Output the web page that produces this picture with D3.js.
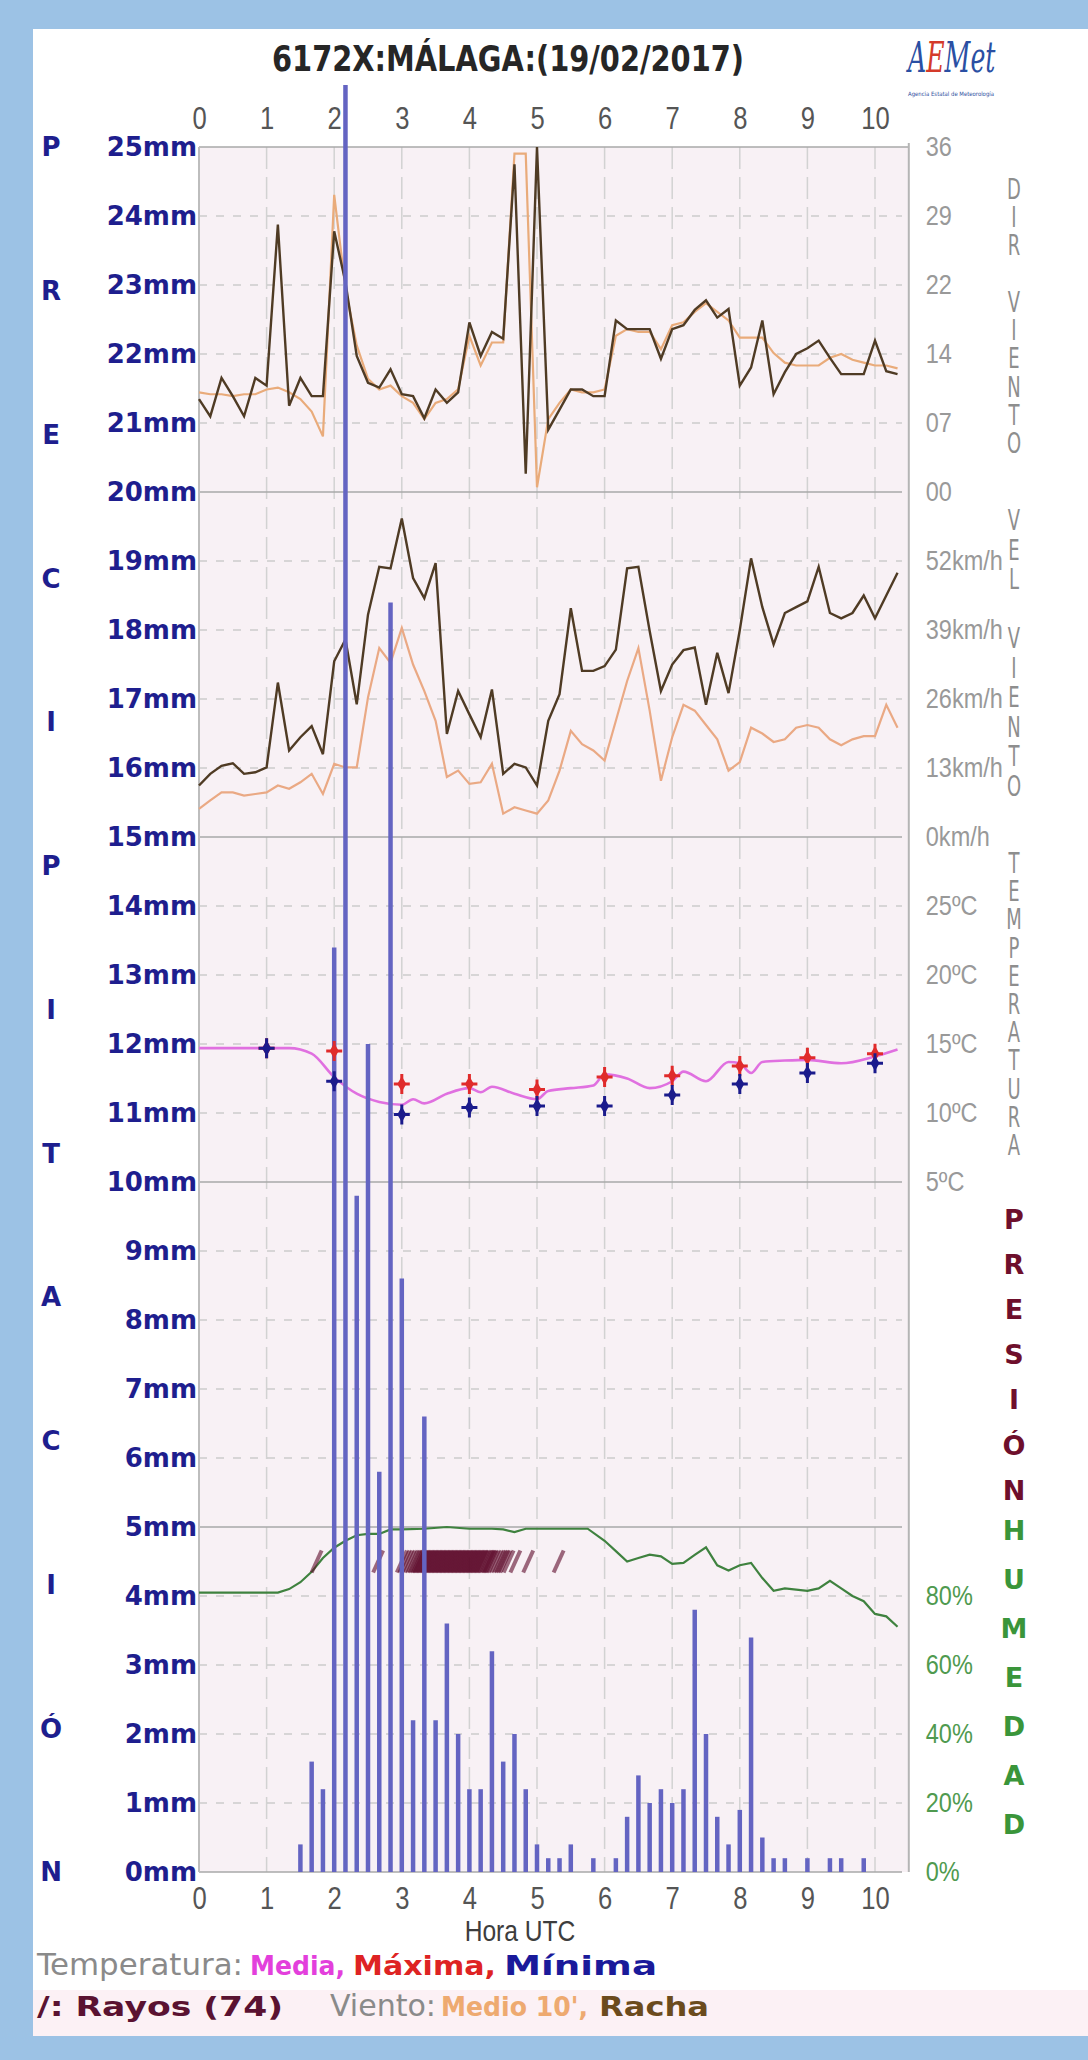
<!DOCTYPE html>
<html>
<head>
<meta charset="utf-8">
<script src="https://cdnjs.cloudflare.com/ajax/libs/d3/7.8.5/d3.min.js"></script>
<style>
  body { margin: 0; background: #9cc2e5; }
  svg { display: block; }
  .narrow { font-family: 'Liberation Sans Narrow', 'Arial Narrow', 'DejaVu Sans Condensed', sans-serif; }
  .thin { font-family: 'Liberation Sans', Arial, sans-serif; }
  .wide { font-family: 'DejaVu Sans', Verdana, sans-serif; }
</style>
</head>
<body>
<div id="graphic"></div>
<script>
// ---- data, 6172X Málaga 19/02/2017 ----
var hours = [0, 1, 2, 3, 4, 5, 6, 7, 8, 9, 10];
var mmTicks = [25, 24, 23, 22, 21, 20, 19, 18, 17, 16, 15, 14, 13, 12, 11, 10, 9, 8, 7, 6, 5, 4, 3, 2, 1, 0];
var dirTicks = [36, 28.8, 21.6, 14.4, 7.2, 0];
var speedTicks = [52, 39, 26, 13, 0];
var tempTicks = [25, 20, 15, 10, 5];
var humTicks = [80, 60, 40, 20, 0];

// wind, 10 minute samples (minutes UTC)
var windMin = [0, 10, 20, 30, 40, 50, 60, 70, 80, 90, 100, 110, 120, 130, 140, 150, 160, 170, 180, 190, 200, 210, 220, 230, 240, 250, 260, 270, 280, 290, 300, 310, 320, 330, 340, 350, 360, 370, 380, 390, 400, 410, 420, 430, 440, 450, 460, 470, 480, 490, 500, 510, 520, 530, 540, 550, 560, 570, 580, 590, 600, 610, 620];
// direction in tens of degrees
var dirRacha = [9.7, 7.9, 11.9, 10.0, 7.9, 11.9, 11.1, 27.9, 9.0, 11.9, 10.0, 10.0, 27.2, 21.9, 14.2, 11.4, 10.9, 12.8, 10.2, 10.0, 7.7, 10.7, 9.3, 10.4, 17.7, 14.2, 16.7, 16.0, 34.2, 1.9, 36, 6.5, 8.6, 10.7, 10.7, 10.0, 10.0, 17.9, 17.0, 17.0, 17.0, 13.9, 17.0, 17.4, 19.0, 20.0, 18.2, 19.1, 11.1, 13.0, 17.9, 10.2, 12.5, 14.4, 15.0, 15.8, 14.0, 12.3, 12.3, 12.3, 15.8, 12.6, 12.3];
var dirMedio = [10.4, 10.2, 10.2, 10.0, 10.2, 10.2, 10.7, 10.9, 10.4, 9.7, 8.4, 5.8, 31.0, 21.2, 15.3, 11.8, 10.7, 11.1, 10.0, 9.3, 7.6, 9.3, 9.7, 10.7, 16.3, 13.2, 15.6, 15.6, 35.3, 35.3, 0.5, 7.6, 9.3, 10.7, 10.4, 10.4, 10.7, 16.3, 17.0, 16.7, 16.7, 14.9, 17.4, 17.7, 18.8, 19.7, 18.8, 17.9, 16.1, 16.1, 16.1, 14.5, 13.5, 13.2, 13.2, 13.2, 14.0, 14.4, 13.8, 13.5, 13.2, 13.2, 12.9];
// speed km/h
var speedRacha = [9.7, 11.9, 13.4, 13.9, 11.9, 12.2, 13.1, 29.1, 16.3, 18.8, 20.9, 15.6, 33.1, 37.2, 25.0, 41.9, 50.9, 50.6, 60.0, 48.8, 45.0, 51.6, 19.4, 27.5, 23.1, 18.8, 27.8, 11.9, 13.8, 13.1, 9.7, 21.9, 26.9, 43.1, 31.3, 31.3, 32.2, 35.3, 50.6, 50.9, 38.8, 27.5, 32.5, 35.2, 35.7, 24.9, 34.7, 27.1, 39.0, 52.5, 43.3, 36.3, 42.2, 43.3, 44.4, 50.9, 42.2, 41.2, 42.2, 45.5, 41.2, 45.5, 49.8];
var speedMedio = [5.3, 6.9, 8.4, 8.4, 7.8, 8.1, 8.4, 9.7, 9.1, 10.3, 11.9, 8.1, 13.8, 13.1, 13.1, 26.3, 35.6, 32.8, 39.4, 32.5, 27.5, 21.9, 11.3, 12.5, 10.0, 10.3, 13.8, 4.4, 5.6, 5.0, 4.4, 6.9, 12.5, 20.0, 17.5, 16.3, 14.4, 21.9, 29.4, 35.6, 23.8, 10.6, 18.8, 24.9, 23.8, 21.1, 18.4, 12.5, 14.1, 20.6, 19.5, 17.9, 18.4, 20.6, 21.1, 20.6, 18.4, 17.3, 18.4, 19.0, 19.0, 24.9, 20.6];

// temperature ºC
var tempMin = [0, 20, 40, 60, 80, 100, 120, 140, 160, 180, 190, 200, 220, 240, 250, 260, 280, 300, 310, 330, 350, 360, 380, 400, 420, 430, 450, 470, 480, 490, 500, 520, 540, 570, 600, 620];
var tempMedia = [14.7, 14.7, 14.7, 14.7, 14.7, 14.3, 12.6, 11.4, 10.8, 10.6, 11.0, 10.7, 11.4, 11.8, 11.5, 11.9, 11.4, 11.0, 11.6, 11.8, 12.0, 12.8, 12.5, 11.8, 12.3, 13.0, 12.3, 13.7, 13.6, 12.9, 13.7, 13.8, 13.85, 13.6, 14.1, 14.6];
var extHours = [1, 2, 3, 4, 5, 6, 7, 8, 9, 10];
var tempMax = [14.7, 14.5, 12.1, 12.1, 11.7, 12.6, 12.7, 13.4, 14.0, 14.3];
var tempMinima = [14.7, 12.3, 9.9, 10.4, 10.5, 10.5, 11.3, 12.1, 12.9, 13.6];

// relative humidity %
var humMin = [0, 30, 60, 70, 80, 90, 100, 110, 120, 130, 140, 150, 160, 170, 180, 200, 220, 240, 260, 270, 280, 290, 300, 330, 345, 360, 370, 380, 390, 400, 410, 420, 430, 440, 450, 460, 470, 480, 490, 500, 510, 520, 540, 550, 560, 570, 580, 590, 600, 610, 620];
var humVal = [81, 81, 81, 81, 82, 84, 87, 91, 94, 96, 97.6, 98, 98, 99.3, 99.3, 99.5, 100, 99.5, 99.5, 99.3, 98.5, 99.5, 99.5, 99.5, 99.5, 96, 93, 90, 91, 92, 91.5, 89.3, 89.6, 91.9, 94.1, 88.9, 87.4, 88.9, 89.6, 85.2, 81.5, 82.2, 81.5, 82.2, 84.4, 82.2, 80, 78.5, 74.8, 74.1, 71.1];

// precipitation per 10 minutes, mm
var precipMin = [90, 100, 110, 120, 130, 140, 150, 160, 170, 180, 190, 200, 210, 220, 230, 240, 250, 260, 270, 280, 290, 300, 310, 320, 330, 350, 370, 380, 390, 400, 410, 420, 430, 440, 450, 460, 470, 480, 490, 500, 510, 520, 540, 560, 570, 590];
var precipMm = [0.4, 1.6, 1.2, 13.4, 25.9, 9.8, 12.0, 5.8, 18.4, 8.6, 2.2, 6.6, 2.2, 3.6, 2.0, 1.2, 1.2, 3.2, 1.6, 2.0, 1.2, 0.4, 0.2, 0.2, 0.4, 0.2, 0.2, 0.8, 1.4, 1.0, 1.2, 1.0, 1.2, 3.8, 2.0, 0.8, 0.4, 0.9, 3.4, 0.5, 0.2, 0.2, 0.2, 0.2, 0.2, 0.2];

// lightning strikes (hour UTC), 74 of them
var rayos = [1.74, 2.65, 3.00, 3.04, 3.08, 3.12, 3.16, 3.19, 3.22, 3.24, 3.26, 3.28, 3.30, 3.32, 3.34, 3.36, 3.38, 3.40, 3.42, 3.44, 3.46, 3.48, 3.50, 3.52, 3.54, 3.56, 3.58, 3.60, 3.62, 3.64, 3.66, 3.68, 3.70, 3.72, 3.74, 3.76, 3.78, 3.80, 3.82, 3.84, 3.86, 3.88, 3.90, 3.92, 3.94, 3.96, 3.98, 4.00, 4.02, 4.04, 4.06, 4.08, 4.10, 4.12, 4.14, 4.16, 4.18, 4.20, 4.22, 4.25, 4.27, 4.29, 4.31, 4.33, 4.36, 4.40, 4.44, 4.47, 4.50, 4.53, 4.58, 4.68, 4.87, 5.32];

function drawGraphic() {
  var W = 1088, H = 2060;
  var svg = d3.select('#graphic').append('svg')
    .attr('width', W).attr('height', H);

  // frame
  svg.append('rect').attr('width', W).attr('height', H).attr('fill', '#9cc2e5');
  svg.append('rect').attr('x', 33).attr('y', 29).attr('width', W - 33).attr('height', 2007).attr('fill', '#fff');
  svg.append('rect').attr('x', 33).attr('y', 1990).attr('width', W - 33).attr('height', 46).attr('fill', '#fcf1f5');

  // scales: one mm scale, each band maps onto 5 mm of it
  var x = d3.scaleLinear().domain([0, 10]).range([199, 875]);
  var y = d3.scaleLinear().domain([0, 25]).range([1872, 147]);
  var yDir = d3.scaleLinear().domain([0, 36]).range([y(20), y(25)]);
  var ySpeed = d3.scaleLinear().domain([0, 65]).range([y(15), y(20)]);
  var yTemp = d3.scaleLinear().domain([5, 30]).range([y(10), y(15)]);
  var yHum = d3.scaleLinear().domain([0, 100]).range([y(0), y(5)]);
  var xm = function(m) { return x(m / 60); };

  // plot background
  svg.append('rect')
    .attr('x', x(0)).attr('y', y(25))
    .attr('width', x(10.5) - x(0)).attr('height', y(0) - y(25))
    .attr('fill', '#f8f1f5');

  // grid
  var grid = svg.append('g').attr('class', 'grid');
  grid.selectAll('line.v').data(hours.slice(1)).join('line')
    .attr('x1', d => x(d)).attr('x2', d => x(d))
    .attr('y1', y(25)).attr('y2', y(0))
    .attr('stroke', '#d2d2d2').attr('stroke-width', 1.5)
    .attr('stroke-dasharray', '22,8');
  grid.selectAll('line.h').data(mmTicks).join('line')
    .attr('x1', x(0)).attr('x2', d => d == 25 ? x(10.5) : x(10.4))
    .attr('y1', d => y(d)).attr('y2', d => y(d))
    .attr('stroke', d => d % 5 == 0 ? '#a9a9a9' : '#cbcbcb')
    .attr('stroke-width', 1.5)
    .attr('stroke-dasharray', d => d % 5 == 0 ? null : '8,9');
  grid.append('line')
    .attr('x1', x(0)).attr('x2', x(0)).attr('y1', y(25)).attr('y2', y(0))
    .attr('stroke', '#bdbdbd').attr('stroke-width', 2);
  grid.append('line')
    .attr('x1', x(10.5)).attr('x2', x(10.5)).attr('y1', y(25) - 4).attr('y2', y(0))
    .attr('stroke', '#b5b5b5').attr('stroke-width', 2);

  // humidity
  svg.append('path')
    .attr('d', d3.line().x((d, i) => xm(humMin[i])).y(d => yHum(d))(humVal))
    .attr('fill', 'none').attr('stroke', '#3f823f').attr('stroke-width', 2.2);

  // wind direction and speed
  var windLine = function(ys, vals) {
    return d3.line().x((d, i) => xm(windMin[i])).y(d => ys(d))(vals);
  };
  svg.append('path').attr('d', windLine(yDir, dirMedio))
    .attr('fill', 'none').attr('stroke', '#e9ab7a').attr('stroke-width', 2.2);
  svg.append('path').attr('d', windLine(yDir, dirRacha))
    .attr('fill', 'none').attr('stroke', '#4f3b24').attr('stroke-width', 2.4);
  svg.append('path').attr('d', windLine(ySpeed, speedMedio))
    .attr('fill', 'none').attr('stroke', '#eaa984').attr('stroke-width', 2.2);
  svg.append('path').attr('d', windLine(ySpeed, speedRacha))
    .attr('fill', 'none').attr('stroke', '#4f3b24').attr('stroke-width', 2.4);

  // temperature mean
  svg.append('path')
    .attr('d', d3.line().curve(d3.curveMonotoneX).x((d, i) => xm(tempMin[i])).y(d => yTemp(d))(tempMedia))
    .attr('fill', 'none').attr('stroke', '#e070e0').attr('stroke-width', 2.6);

  // lightning
  svg.append('g').selectAll('line').data(rayos).join('line')
    .attr('x1', d => x(d) - 5).attr('x2', d => x(d) + 5)
    .attr('y1', y(4.5) + 11).attr('y2', y(4.5) - 11)
    .attr('stroke', '#5e0b2b').attr('stroke-width', 4).attr('opacity', 0.6);

  // precipitation
  svg.append('g').selectAll('line').data(precipMm).join('line')
    .attr('x1', (d, i) => xm(precipMin[i])).attr('x2', (d, i) => xm(precipMin[i]))
    .attr('y1', y(0)).attr('y2', d => y(d))
    .attr('stroke', '#6464c2').attr('stroke-width', 4.5);

  // max / min markers
  var marker = function(colour, vals) {
    var g = svg.append('g').selectAll('g').data(vals).join('g')
      .attr('transform', (d, i) => 'translate(' + x(extHours[i]) + ',' + yTemp(d) + ')');
    g.append('path').attr('d', 'M0,-10V10M-8,0H8').attr('stroke', colour).attr('stroke-width', 3);
    g.append('path').attr('d', d3.symbol(d3.symbolDiamond, 70)).attr('fill', colour);
  };
  marker('#e02b2b', tempMax);
  marker('#1b1b8c', tempMinima);

  // hour labels, top and bottom
  var topAxis = svg.append('g').attr('transform', 'translate(0,129)')
    .call(d3.axisTop(x).tickValues(hours).tickSize(0).tickPadding(0));
  var bottomAxis = svg.append('g').attr('transform', 'translate(0,1909)')
    .call(d3.axisBottom(x).tickValues(hours).tickSize(0).tickPadding(0));
  [topAxis, bottomAxis].forEach(function(a) {
    a.select('.domain').remove();
    a.selectAll('text').attr('class', 'thin').attr('dy', 0)
      .attr('transform', 'scale(0.8,1)')
      .attr('font-size', 32).attr('fill', '#555');
  });

  // left precipitation axis
  var leftAxis = svg.append('g').attr('transform', 'translate(197,0)')
    .call(d3.axisLeft(y).tickValues(mmTicks).tickFormat(d => d + 'mm').tickSize(0).tickPadding(0));
  leftAxis.select('.domain').remove();
  leftAxis.selectAll('text').attr('class', 'wide').attr('font-weight', 'bold')
    .attr('font-size', 26).attr('fill', '#1e1e8e');

  // right axes
  var rightAxis = function(scale, ticks, fmt, colour) {
    var a = svg.append('g').attr('transform', 'translate(' + (x(10.5) + 17) + ',0)')
      .call(d3.axisRight(scale).tickValues(ticks).tickFormat(fmt).tickSize(0).tickPadding(0));
    a.select('.domain').remove();
    a.selectAll('text').attr('class', 'thin').attr('font-size', 28)
      .attr('transform', 'scale(0.84,1)').attr('fill', colour);
  };
  rightAxis(yDir, dirTicks, d => d3.format('02d')(Math.round(d)), '#999');
  rightAxis(ySpeed, speedTicks, d => d + 'km/h', '#999');
  rightAxis(yTemp, tempTicks, d => d + 'ºC', '#999');
  rightAxis(yHum, humTicks, d => d + '%', '#4f9a4f');

  // stacked vertical words, one text per word
  var stack = function(word, cx, cy, step, size, weight, colour, sx) {
    var chars = word.split('');
    var n = chars.length;
    var t = svg.append('text').attr('class', 'wide')
      .attr('transform', 'translate(' + cx + ',' + (cy - (n - 1) / 2 * step) + ') scale(' + sx + ',1)')
      .attr('text-anchor', 'middle')
      .attr('font-size', size).attr('font-weight', weight).attr('fill', colour);
    t.selectAll('tspan').data(chars).join('tspan')
      .attr('x', 0)
      .attr('dy', (c, i) => i == 0 ? (0.36 * size) : step)
      .text(c => c == ' ' ? '\u00a0' : c);
  };
  stack('PRECIPITACIÓN', 51, y(12.5), (y(0) - y(25)) / 12, 26, 'bold', '#1e1e8e', 1);
  stack('DIR VIENTO', 1014, y(22.5) - 4, 28.3, 29, 'normal', '#8e8e8e', 0.62);
  stack('VEL VIENTO', 1014, y(17.5) - 12, 29.5, 29, 'normal', '#8e8e8e', 0.62);
  stack('TEMPERATURA', 1014, y(12.5) - 6, 28.2, 29, 'normal', '#8e8e8e', 0.62);
  stack('PRESIÓN', 1014, y(7.5), 45.2, 27, 'bold', '#6e0f2c', 1);
  stack('HUMEDAD', 1014, y(2.5) - 22, 49, 27, 'bold', '#3a953a', 1);

  // title
  svg.append('text').attr('class', 'narrow')
    .attr('x', 508).attr('y', 71).attr('text-anchor', 'middle')
    .attr('font-size', 36).attr('font-weight', 'bold').attr('fill', '#262626')
    .attr('textLength', 472).attr('lengthAdjust', 'spacingAndGlyphs')
    .text('6172X:MÁLAGA:(19/02/2017)');

  // logo
  var logo = svg.append('g').attr('transform', 'translate(908,72)');
  var lt = logo.append('text').attr('font-family', 'DejaVu Serif, serif')
    .attr('font-style', 'italic').attr('font-size', 42)
    .attr('transform', 'scale(0.6,1)');
  lt.append('tspan').attr('fill', '#2a4fa3').text('A');
  lt.append('tspan').attr('fill', '#d43a2a').text('E');
  lt.append('tspan').attr('fill', '#2a4fa3').text('Met');
  logo.append('text').attr('y', 24).attr('font-size', 6).attr('font-family', 'DejaVu Sans, sans-serif')
    .attr('fill', '#3050a0').attr('textLength', 86).attr('lengthAdjust', 'spacingAndGlyphs')
    .text('Agencia Estatal de Meteorología');

  // x title
  svg.append('text').attr('class', 'thin')
    .attr('transform', 'translate(520,1941) scale(0.82,1)').attr('text-anchor', 'middle')
    .attr('font-size', 30).attr('fill', '#3d3d3d').text('Hora UTC');

  // legend rows
  var legend = function(yy, parts) {
    parts.forEach(function(p) {
      svg.append('text').attr('class', p[4] ? 'wide' : 'narrow')
        .attr('x', p[1]).attr('y', yy)
        .attr('font-size', p[4] ? 26 : 30).attr('font-weight', p[4] ? 'bold' : 'normal')
        .attr('fill', p[3]).attr('textLength', p[2]).attr('lengthAdjust', 'spacingAndGlyphs')
        .text(p[0]);
    });
  };
  legend(1975, [
    ['Temperatura:', 37, 206, '#8a8a8a', false],
    ['Media,', 250, 95, '#e33fdc', true],
    ['Máxima,', 353, 143, '#de2323', true],
    ['Mínima', 504, 153, '#1a1a9a', true]
  ]);
  legend(2016, [
    ['/: Rayos (74)', 37, 246, '#5a1231', true],
    ['Viento:', 330, 106, '#8a8a8a', false],
    ['Medio 10\',', 441, 147, '#eeaa70', true],
    ['Racha', 599, 110, '#6b4b1d', true]
  ]);
}

drawGraphic();
</script>
</body>
</html>
